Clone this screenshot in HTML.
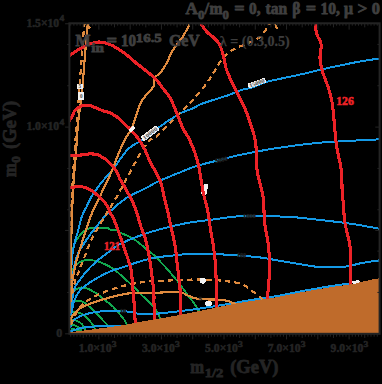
<!DOCTYPE html>
<html><head><meta charset="utf-8"><title>plot</title>
<style>
html,body{margin:0;padding:0;background:#000;}
body{width:382px;height:384px;overflow:hidden;position:relative;font-family:"Liberation Serif",serif;}
svg{position:absolute;left:0;top:0;display:block}
text{font-family:"Liberation Serif",serif;font-weight:bold}
</style></head><body>
<svg width="382" height="384" viewBox="0 0 382 384">
<rect x="0" y="0" width="382" height="384" fill="#000"/>
<defs><clipPath id="cp"><rect x="69.5" y="23.3" width="310" height="310.5"/></clipPath></defs>
<g clip-path="url(#cp)" fill="none" stroke-linecap="round" stroke-linejoin="round" shape-rendering="crispEdges">
<path d="M70.8,258.0 C71.0,256.8 71.7,253.3 72.3,251.0 C72.9,248.7 73.6,246.1 74.5,244.0 C75.4,241.9 76.3,240.3 77.8,238.2 C79.3,236.1 81.3,233.2 83.3,231.6 C85.3,230.0 87.2,229.1 89.6,228.4 C91.9,227.7 95.0,227.7 97.4,227.6 C99.8,227.5 102.2,227.6 104.0,227.7 C105.8,227.8 106.9,227.7 108.0,228.0 C109.1,228.3 109.0,229.4 110.4,229.8 C111.9,230.2 115.3,230.0 116.7,230.4 C118.1,230.8 117.7,231.4 118.9,232.0 C120.1,232.6 122.4,233.6 123.8,234.2 C125.2,234.8 125.5,234.9 127.3,235.8 C129.1,236.7 132.5,238.2 134.7,239.6 C136.8,241.0 138.1,242.3 140.2,244.0 C142.3,245.7 144.9,247.9 147.5,250.0 C150.1,252.1 153.2,254.5 155.5,256.6 C157.8,258.7 159.2,260.4 161.0,262.4 C162.8,264.3 164.7,266.2 166.5,268.3 C168.3,270.4 170.2,272.6 172.0,274.7 C173.8,276.8 175.5,278.7 177.5,281.2 C179.5,283.7 182.5,287.7 184.0,289.8 C185.5,291.9 185.0,291.8 186.7,294.0 C188.4,296.2 192.0,300.4 194.0,303.1 C196.0,305.9 197.6,308.9 198.6,310.5 C199.6,312.1 199.8,312.6 200.0,313.0" stroke="#12a84f" stroke-width="1.9"/>
<path d="M71.0,275.0 C71.3,274.0 71.1,271.1 72.6,268.9 C74.1,266.7 77.4,263.3 80.1,261.8 C82.8,260.3 85.6,259.9 88.9,260.0 C92.2,260.1 96.6,261.0 100.2,262.2 C103.8,263.4 108.0,265.8 110.3,267.0 C112.6,268.2 112.1,267.5 114.3,269.3 C116.5,271.1 120.5,274.9 123.5,277.6 C126.5,280.4 129.5,282.8 132.6,285.8 C135.7,288.8 139.1,292.6 142.1,295.5 C145.1,298.4 147.8,300.2 150.5,303.2 C153.2,306.2 156.6,310.6 158.3,313.6 C160.0,316.6 160.1,319.8 160.5,321.0" stroke="#12a84f" stroke-width="1.9"/>
<path d="M71.0,296.0 C71.2,295.4 70.8,293.6 72.3,292.2 C73.8,290.8 77.5,288.2 80.1,287.6 C82.7,287.0 85.1,287.7 88.0,288.8 C90.9,289.9 94.5,292.3 97.4,294.2 C100.3,296.1 102.7,298.3 105.3,300.4 C107.9,302.5 110.8,304.5 113.1,306.7 C115.4,308.9 117.4,311.4 119.4,313.8 C121.4,316.2 123.6,318.8 124.9,320.8 C126.2,322.8 126.7,325.1 127.0,326.0" stroke="#12a84f" stroke-width="1.9"/>
<path d="M71.0,306.5 C71.2,305.9 71.0,303.8 72.3,302.8 C73.6,301.9 76.5,300.8 78.6,300.8 C80.7,300.8 82.6,301.6 84.8,302.9 C87.0,304.2 89.5,306.9 91.5,308.6 C93.5,310.4 94.7,311.5 96.5,313.4 C98.3,315.3 100.8,318.0 102.6,320.0 C104.4,322.0 106.4,323.9 107.6,325.4 C108.8,326.9 109.2,328.4 109.5,329.0" stroke="#12a84f" stroke-width="1.9"/>
<path d="M71.0,315.0 C71.2,314.5 71.2,312.7 72.3,312.2 C73.4,311.7 75.5,311.7 77.4,312.2 C79.3,312.7 81.8,313.9 83.7,315.2 C85.6,316.5 87.4,318.5 89.0,320.2 C90.6,321.9 92.0,323.8 93.1,325.4 C94.2,327.0 95.2,329.2 95.6,330.0" stroke="#12a84f" stroke-width="1.9"/>
<path d="M71.0,321.0 C71.2,320.8 71.3,320.0 72.3,320.0 C73.3,320.0 75.4,320.1 77.0,320.8 C78.6,321.5 80.3,322.5 81.7,324.0 C83.1,325.5 84.9,329.0 85.6,330.0" stroke="#12a84f" stroke-width="1.9"/>
<path d="M70.5,326.0 C70.7,325.9 70.7,325.6 71.5,325.5 C72.3,325.4 74.0,325.0 75.4,325.5 C76.8,326.0 79.2,327.7 80.1,328.7 C81.0,329.7 80.8,331.0 81.0,331.5" stroke="#12a84f" stroke-width="1.9"/>
<path d="M71.5,329.2 C72.1,329.2 73.5,329.2 75.0,329.4 C76.5,329.6 79.6,330.2 80.5,330.4" stroke="#12a84f" stroke-width="1.9"/>
<path d="M379.6,58.5 C376.5,59.0 367.5,60.1 361.0,61.3 C354.5,62.4 347.3,64.0 340.5,65.4 C333.7,66.8 326.2,68.4 320.0,69.8 C313.8,71.2 308.7,72.6 303.0,73.9 C297.3,75.2 291.9,76.3 286.0,77.6 C280.1,78.9 273.1,80.0 267.3,81.7 C261.6,83.4 255.8,86.2 251.5,87.6 C247.2,89.0 245.2,88.8 241.4,90.0 C237.6,91.2 233.1,93.5 228.9,95.0 C224.7,96.5 220.9,97.5 216.3,99.0 C211.7,100.5 205.0,102.5 201.2,104.0 C197.4,105.5 197.1,106.5 193.7,108.0 C190.3,109.5 185.2,110.9 181.0,113.0 C176.8,115.1 172.8,117.9 168.6,120.6 C164.4,123.3 160.3,126.3 156.0,129.4 C151.7,132.5 146.8,136.7 143.0,139.4 C139.2,142.1 135.5,143.7 132.9,145.4 C130.3,147.1 129.2,147.9 127.5,149.6 C125.8,151.3 125.2,152.2 122.8,155.5 C120.3,158.8 116.1,165.3 112.8,169.6 C109.5,173.8 105.6,177.4 102.7,181.0 C99.8,184.6 97.0,188.5 95.2,191.0 C93.4,193.5 93.4,193.3 91.9,196.0 C90.4,198.7 88.1,203.6 86.4,207.0 C84.7,210.4 83.3,212.2 81.9,216.4 C80.5,220.6 79.0,227.6 77.8,232.0 C76.6,236.4 75.5,239.1 74.6,243.0 C73.7,246.9 72.9,250.4 72.3,255.7 C71.7,261.0 71.3,267.6 71.0,275.0 C70.7,282.4 70.4,295.8 70.3,300.0" stroke="#1499e6" stroke-width="2.0"/>
<path d="M379.6,139.3 C374.2,139.6 357.2,140.4 347.3,141.0 C337.4,141.6 328.5,142.0 320.0,142.7 C311.5,143.4 304.1,144.4 296.2,145.4 C288.3,146.4 279.8,147.6 272.4,148.8 C265.0,150.0 258.0,151.3 252.0,152.5 C246.0,153.7 240.7,154.7 236.4,155.7 C232.1,156.7 231.4,157.0 226.4,158.3 C221.4,159.6 211.8,161.9 206.3,163.3 C200.9,164.8 197.9,165.6 193.7,167.0 C189.5,168.4 185.2,170.3 181.0,172.0 C176.8,173.7 172.8,175.2 168.6,177.0 C164.4,178.8 159.9,180.6 156.0,182.5 C152.1,184.4 149.2,186.5 145.4,188.4 C141.6,190.3 135.8,192.8 132.9,194.2 C130.0,195.6 129.7,195.8 128.1,196.8 C126.5,197.8 125.1,198.8 123.3,200.2 C121.5,201.6 118.9,203.4 117.0,205.0 C115.1,206.6 113.8,208.0 111.8,209.8 C109.8,211.6 107.7,213.2 105.3,215.8 C102.9,218.4 100.0,222.1 97.4,225.3 C94.8,228.6 91.9,232.1 89.6,235.3 C87.2,238.5 85.4,241.3 83.3,244.7 C81.2,248.1 78.6,251.7 77.0,255.9 C75.4,260.1 74.5,264.9 73.6,270.0 C72.7,275.1 72.0,279.8 71.5,286.5 C71.0,293.2 70.7,306.1 70.5,310.0" stroke="#1499e6" stroke-width="2.0"/>
<path d="M379.3,228.7 C374.5,227.9 360.6,225.1 350.7,223.7 C340.8,222.2 329.6,221.1 320.0,220.0 C310.4,218.9 303.5,217.9 293.3,217.2 C283.1,216.5 268.6,216.1 259.0,216.0 C249.4,215.9 244.1,215.8 236.0,216.5 C227.9,217.2 218.0,218.9 210.4,219.9 C202.8,220.9 197.0,221.3 190.3,222.4 C183.6,223.5 176.1,225.3 170.2,226.7 C164.3,228.1 159.5,229.4 155.0,230.7 C150.5,232.0 147.1,233.2 143.0,234.6 C138.9,236.0 134.6,237.5 130.4,239.3 C126.2,241.1 122.0,242.8 117.8,245.3 C113.6,247.9 109.0,251.7 105.2,254.6 C101.4,257.5 98.3,259.8 95.2,262.6 C92.1,265.4 89.1,268.3 86.4,271.4 C83.7,274.5 80.9,278.3 78.8,281.4 C76.7,284.5 75.1,285.4 73.8,290.2 C72.5,295.0 71.5,306.7 71.0,310.0" stroke="#1499e6" stroke-width="2.0"/>
<path d="M379.3,260.4 C376.4,260.8 368.1,261.9 362.0,263.0 C355.9,264.1 350.0,266.3 343.0,267.0 C336.0,267.7 326.4,267.3 320.0,267.0 C313.6,266.7 311.2,266.0 304.8,265.0 C298.4,264.0 289.5,262.5 281.9,261.2 C274.3,259.9 266.6,258.3 259.0,257.3 C251.3,256.3 242.4,255.9 236.0,255.4 C229.6,254.9 225.5,254.6 220.4,254.3 C215.3,254.0 211.2,253.8 205.3,253.8 C199.4,253.8 191.0,254.0 185.2,254.3 C179.3,254.6 175.2,255.2 170.2,255.8 C165.2,256.4 160.0,256.7 155.0,257.6 C150.0,258.5 145.3,259.8 140.4,261.3 C135.5,262.8 130.3,264.7 125.3,266.4 C120.3,268.1 114.9,269.5 110.3,271.4 C105.7,273.3 101.5,275.6 97.7,277.7 C93.9,279.8 90.5,281.9 87.6,284.0 C84.7,286.1 82.3,287.5 80.1,290.2 C77.9,292.9 76.0,295.9 74.5,300.0 C73.0,304.1 71.6,312.5 71.0,315.0" stroke="#1499e6" stroke-width="2.0"/>
<path d="M70.5,327.0 C70.7,326.3 70.7,324.0 71.5,322.6 C72.3,321.2 73.2,320.2 75.4,318.8 C77.6,317.4 81.1,315.7 84.8,314.5 C88.5,313.3 92.7,312.3 97.4,311.7 C102.1,311.1 108.4,310.9 113.1,310.9 C117.8,310.8 122.5,311.1 125.7,311.4 C128.9,311.6 130.2,312.0 132.6,312.4 C135.0,312.8 136.9,313.7 140.0,314.0 C143.1,314.3 146.8,314.4 151.0,314.2 C155.2,314.0 159.1,313.4 165.1,312.8 C171.1,312.2 179.1,311.3 187.0,310.3 C194.9,309.3 204.4,307.8 212.3,306.6 C220.2,305.4 227.9,304.1 234.2,303.0 C240.5,301.9 244.6,301.1 250.0,300.2 C255.4,299.3 261.6,298.6 266.6,297.8 C271.6,297.0 274.7,296.5 280.0,295.5 C285.3,294.5 292.2,293.0 298.3,291.8 C304.4,290.6 310.5,289.6 316.6,288.5 C322.7,287.4 329.8,286.3 335.0,285.5 C340.2,284.7 345.8,284.1 348.0,283.8" stroke="#1499e6" stroke-width="2.0"/>
<path d="M70.5,332.0 C70.7,331.8 69.6,331.7 71.5,331.0 C73.4,330.3 77.4,328.7 81.7,327.9 C86.0,327.1 92.2,326.6 97.4,326.3 C102.6,326.0 109.0,326.0 113.1,326.0 C117.2,326.0 120.5,326.4 122.0,326.5" stroke="#1499e6" stroke-width="2.0"/>
<path d="M87.6,22.0 C87.4,25.0 86.7,33.7 86.2,40.0 C85.7,46.3 85.1,53.0 84.6,60.0 C84.0,67.0 83.5,75.3 82.9,82.0 C82.3,88.7 81.9,94.0 81.2,100.0 C80.5,106.0 79.3,111.8 78.6,118.0 C77.9,124.2 77.5,130.3 77.0,137.0 C76.5,143.7 76.1,150.8 75.6,158.0 C75.0,165.2 74.2,173.0 73.7,180.0 C73.2,187.0 72.9,193.3 72.6,200.0 C72.3,206.7 72.1,211.7 71.8,220.0 C71.5,228.3 71.2,239.2 71.0,250.0 C70.8,260.8 70.4,279.2 70.3,285.0" stroke="#df8a3e" stroke-width="2.2"/>
<path d="M190.5,22.0 C189.3,24.4 186.1,31.4 183.2,36.1 C180.3,40.8 175.8,45.4 173.0,50.0 C170.2,54.6 168.5,59.8 166.3,63.7 C164.1,67.6 161.5,71.5 159.8,73.6 C158.1,75.7 156.9,75.1 156.0,76.2 C155.1,77.3 154.7,78.5 154.4,80.0 C154.1,81.5 154.4,83.5 154.0,85.0 C153.6,86.5 152.6,87.9 151.8,89.0 C151.0,90.1 150.4,90.2 149.3,91.5 C148.2,92.8 146.4,94.7 145.0,96.5 C143.6,98.3 142.2,100.2 141.0,102.4 C139.8,104.7 138.9,107.6 138.0,110.0 C137.1,112.4 136.5,114.7 135.7,117.0 C134.9,119.3 134.0,121.9 133.3,124.0 C132.6,126.1 132.7,127.3 131.5,129.6 C130.3,131.8 127.8,134.3 126.0,137.5 C124.2,140.7 122.1,145.3 120.5,149.0 C118.9,152.7 118.0,155.2 116.3,159.5 C114.6,163.8 112.6,169.3 110.3,174.5 C108.0,179.7 104.5,186.8 102.7,190.5 C100.9,194.2 101.3,193.5 99.6,197.0 C97.9,200.5 94.4,207.1 92.5,211.7 C90.6,216.2 89.5,219.9 88.0,224.3 C86.5,228.8 84.7,234.0 83.3,238.4 C81.9,242.8 80.7,246.6 79.4,251.0 C78.1,255.4 76.6,260.2 75.5,265.0 C74.4,269.8 73.4,275.0 72.6,280.0 C71.8,285.0 71.2,289.7 70.8,295.0 C70.4,300.3 70.1,309.2 70.0,312.0" stroke="#df8a3e" stroke-width="2.2"/>
<path d="M70.5,322.0 C70.8,321.0 71.2,317.9 72.3,316.0 C73.4,314.1 75.2,312.2 77.0,310.6 C78.8,309.1 80.7,308.0 83.3,306.7 C85.9,305.4 89.0,304.1 92.7,302.8 C96.4,301.5 101.1,300.0 105.3,298.8 C109.5,297.6 113.2,296.5 117.8,295.5 C122.3,294.5 127.1,293.4 132.6,293.0 C138.1,292.6 145.1,293.1 151.0,293.0 C156.9,292.9 163.3,292.3 168.3,292.2 C173.3,292.1 178.1,292.2 181.2,292.6 C184.3,293.1 184.6,294.0 186.7,294.9 C188.8,295.8 191.6,297.3 194.0,298.0 C196.4,298.7 198.3,298.9 201.3,299.2 C204.3,299.4 208.9,299.4 212.0,299.5 C215.1,299.6 217.3,299.6 220.0,299.8 C222.7,300.1 225.3,300.2 228.0,301.0 C230.7,301.8 234.7,303.8 236.0,304.3" stroke="#df8a3e" stroke-width="2.2"/>
<path d="M85.6,25.2 L88.4,24.2 L89.6,26.2 L91.2,27.6 L89.2,29.2 L87.0,29.8 Z" fill="#df8a3e" stroke="none"/>
<path d="M84.8,22.0 C84.6,24.2 83.9,28.7 83.4,35.0 C82.9,41.3 82.2,52.2 81.6,60.0 C81.0,67.8 80.3,75.3 79.8,82.0 C79.3,88.7 79.0,93.7 78.6,100.0 C78.2,106.3 77.7,113.3 77.2,120.0 C76.7,126.7 76.0,133.3 75.5,140.0 C75.0,146.7 74.5,153.3 74.0,160.0 C73.5,166.7 73.2,173.3 72.8,180.0 C72.4,186.7 72.1,193.3 71.8,200.0 C71.5,206.7 71.2,211.7 71.0,220.0 C70.8,228.3 70.6,245.0 70.5,250.0" stroke="#df8a3e" stroke-width="2.2" stroke-dasharray="5.5,4" stroke-linecap="butt"/>
<path d="M277.0,29.0 C276.7,28.2 275.8,25.3 275.0,24.0 C274.2,22.7 272.9,21.0 272.0,21.0 C271.1,21.0 270.7,22.5 269.5,24.2 C268.3,25.9 267.0,28.7 264.8,31.3 C262.6,33.9 259.8,37.4 256.5,39.6 C253.2,41.8 249.1,42.3 244.8,44.3 C240.5,46.2 234.1,49.1 230.6,51.3 C227.1,53.4 225.8,54.8 223.6,57.2 C221.4,59.6 219.5,62.8 217.7,65.5 C215.9,68.2 214.9,70.7 213.0,73.7 C211.1,76.8 209.5,79.6 206.3,83.8 C203.1,88.0 197.5,94.8 193.7,99.0 C189.9,103.2 187.8,104.8 183.6,109.0 C179.4,113.2 173.0,119.6 168.6,124.0 C164.2,128.4 160.5,132.8 157.3,135.6 C154.1,138.4 152.0,137.8 149.2,140.7 C146.4,143.6 143.1,148.8 140.4,153.2 C137.7,157.6 135.4,162.4 132.9,167.0 C130.4,171.6 127.5,176.8 125.3,181.0 C123.0,185.2 121.2,188.7 119.4,192.0 C117.6,195.3 116.0,198.1 114.4,200.8 C112.8,203.6 111.3,205.7 109.6,208.5 C107.9,211.3 107.0,212.6 104.0,217.6 C101.0,222.6 95.0,232.2 91.8,238.7 C88.6,245.1 87.0,250.9 84.8,256.3 C82.6,261.8 80.4,267.2 78.8,271.4 C77.2,275.6 76.3,276.6 75.0,281.4 C73.7,286.2 71.7,296.9 71.0,300.0" stroke="#df8a3e" stroke-width="2.2" stroke-dasharray="5.5,4" stroke-linecap="butt"/>
<path d="M71.0,325.0 C71.7,323.3 73.5,317.9 75.0,315.0 C76.5,312.1 78.2,309.8 80.1,307.5 C82.0,305.2 84.6,302.6 86.4,301.2 C88.2,299.8 89.5,299.7 91.1,298.8 C92.7,297.9 93.6,297.1 96.0,295.9 C98.4,294.7 101.9,292.9 105.3,291.6 C108.7,290.3 113.3,288.9 116.3,287.9 C119.3,286.9 119.2,286.8 123.5,285.8 C127.8,284.9 137.1,283.0 141.8,282.2 C146.6,281.4 147.1,281.5 152.0,281.2 C156.9,280.9 162.9,280.7 171.4,280.4 C179.9,280.1 193.4,279.3 202.8,279.5 C212.2,279.7 221.2,280.5 228.0,281.4 C234.8,282.3 238.9,282.8 243.7,285.0 C248.5,287.2 253.8,292.4 257.0,294.8 C260.2,297.2 261.8,298.7 262.8,299.5" stroke="#df8a3e" stroke-width="2.2" stroke-dasharray="5.5,4" stroke-linecap="butt"/>
<g transform="rotate(0 205.8 186.5)"><rect x="203.7" y="184.1" width="4.2" height="4.8" rx="1.4" fill="#f2f2f2" stroke="none"/>
</g>
<g transform="rotate(0 204.0 191.7)"><rect x="201.0" y="188.7" width="6.0" height="6.0" rx="1.4" fill="#f2f2f2" stroke="none"/>
</g>
<path d="M69.0,55.8 C69.3,55.6 68.6,56.0 70.6,54.7 C72.5,53.5 77.5,50.1 80.7,48.3 C83.9,46.5 86.8,44.9 89.8,43.9 C92.8,42.9 96.0,42.0 99.0,42.0 C102.0,42.0 105.0,42.7 108.1,43.7 C111.1,44.8 114.2,46.5 117.3,48.3 C120.4,50.1 123.5,52.3 126.5,54.7 C129.6,57.1 133.2,60.6 135.6,62.6 C138.0,64.6 138.4,64.7 141.0,66.8 C143.6,68.9 148.6,72.7 151.4,75.1 C154.2,77.5 155.6,79.0 157.7,81.4 C159.8,83.9 161.9,87.0 164.0,89.8 C166.1,92.6 168.4,94.8 170.3,98.2 C172.2,101.6 173.9,106.3 175.5,110.0 C177.1,113.7 178.4,117.3 179.7,120.5 C181.0,123.7 181.7,126.1 183.2,129.0 C184.7,131.9 186.7,134.0 188.7,138.0 C190.7,142.0 193.3,148.4 195.0,153.0 C196.7,157.6 197.7,161.2 198.7,165.8 C199.7,170.5 200.3,175.9 201.2,180.9 C202.1,185.9 202.9,191.0 204.0,196.0 C205.1,201.0 206.7,205.6 207.8,211.0 C208.9,216.4 209.5,222.8 210.4,228.7 C211.3,234.6 212.6,240.5 213.4,246.3 C214.2,252.2 215.0,258.4 215.4,263.8 C215.8,269.2 215.9,274.6 216.1,279.0 C216.3,283.4 216.5,284.8 216.7,290.0 C216.8,295.2 216.9,306.7 217.0,310.0" stroke="#ec2227" stroke-width="3.1"/>
<path d="M69.0,121.5 C69.4,120.8 70.4,119.2 71.5,117.3 C72.6,115.3 73.7,111.7 75.4,109.8 C77.1,107.9 79.9,106.8 81.7,106.0 C83.5,105.2 84.9,105.2 86.5,105.2 C88.1,105.2 89.3,105.2 91.1,105.8 C92.9,106.4 95.3,107.7 97.4,108.6 C99.5,109.5 101.6,110.3 103.7,111.0 C105.8,111.7 107.9,112.0 110.0,112.9 C112.1,113.8 114.2,115.0 116.3,116.5 C118.4,118.0 120.9,120.5 122.5,122.0 C124.1,123.5 124.8,124.5 126.0,125.6 C127.2,126.7 127.5,126.5 129.5,128.6 C131.5,130.7 135.2,134.3 137.9,138.0 C140.6,141.7 143.3,146.5 145.4,150.7 C147.5,154.9 148.7,159.4 150.5,163.0 C152.3,166.6 154.2,168.6 156.0,172.0 C157.8,175.4 159.7,179.6 161.0,183.4 C162.3,187.2 162.6,190.4 163.7,195.0 C164.8,199.6 166.3,205.4 167.6,211.0 C168.9,216.6 170.1,222.8 171.4,228.7 C172.7,234.6 174.2,240.5 175.2,246.3 C176.2,252.2 176.6,258.4 177.2,263.8 C177.8,269.2 178.5,274.4 179.0,279.0 C179.5,283.6 180.0,287.3 180.2,291.5 C180.4,295.7 180.1,299.6 180.2,304.0 C180.3,308.4 180.7,315.7 180.8,318.0" stroke="#ec2227" stroke-width="3.1"/>
<path d="M199.8,21.0 C200.4,22.1 202.2,25.6 203.5,27.5 C204.8,29.4 205.8,30.8 207.5,32.5 C209.2,34.2 212.0,35.9 214.0,37.8 C216.0,39.7 217.9,41.6 219.3,44.0 C220.7,46.4 221.5,49.3 222.3,52.0 C223.1,54.7 223.7,57.3 224.3,60.0 C224.9,62.7 225.2,65.2 226.0,68.0 C226.8,70.8 227.7,72.8 229.3,76.5 C230.9,80.2 233.5,86.0 235.6,90.2 C237.7,94.4 239.9,97.9 241.8,101.8 C243.7,105.7 245.4,109.5 246.9,113.5 C248.4,117.5 249.6,120.8 251.0,125.6 C252.4,130.3 254.6,134.7 255.6,142.0 C256.6,149.3 256.0,161.4 257.0,169.3 C258.0,177.2 260.4,184.6 261.5,189.7 C262.6,194.8 263.0,194.4 263.5,200.0 C264.0,205.6 263.9,215.3 264.7,223.0 C265.5,230.7 267.7,238.3 268.5,245.9 C269.3,253.5 269.8,259.8 269.6,268.8 C269.4,277.8 267.7,294.8 267.3,300.0" stroke="#ec2227" stroke-width="3.1"/>
<path d="M315.0,22.0 C315.3,24.0 315.7,30.3 316.7,34.0 C317.7,37.7 320.6,40.2 321.1,44.2 C321.7,48.2 319.8,53.4 320.0,57.9 C320.2,62.4 321.1,66.4 322.5,71.5 C323.9,76.6 327.0,83.4 328.6,88.5 C330.2,93.6 331.1,97.5 332.0,102.0 C332.9,106.5 333.2,111.3 333.7,115.7 C334.1,120.1 334.1,122.9 334.7,128.4 C335.2,133.9 335.9,142.0 337.0,148.8 C338.1,155.6 340.3,161.9 341.2,169.3 C342.1,176.7 341.9,187.9 342.2,193.0 C342.5,198.1 342.5,195.0 343.0,200.0 C343.5,205.0 343.8,215.3 345.0,223.0 C346.2,230.7 349.1,238.3 350.0,245.9 C350.9,253.5 350.6,262.3 350.7,268.8 C350.8,275.3 350.7,282.3 350.7,285.0" stroke="#ec2227" stroke-width="3.1"/>
<path d="M69.0,155.3 C71.1,155.2 78.3,155.2 81.7,155.0 C85.1,154.8 87.0,154.0 89.6,153.9 C92.2,153.8 95.3,154.1 97.4,154.7 C99.5,155.3 100.5,156.4 102.1,157.3 C103.7,158.2 104.6,158.4 106.8,160.3 C109.0,162.2 112.8,165.8 115.0,169.0 C117.2,172.2 118.4,176.2 120.2,179.5 C122.0,182.8 124.0,185.8 125.8,189.0 C127.6,192.2 129.4,195.5 130.9,198.5 C132.4,201.5 133.7,204.2 134.8,207.0 C135.9,209.8 136.5,212.0 137.6,215.5 C138.7,219.0 140.0,224.1 141.3,228.0 C142.6,231.9 144.1,234.0 145.4,238.7 C146.7,243.4 148.1,250.4 149.2,256.3 C150.2,262.2 150.9,268.0 151.7,273.9 C152.5,279.8 153.4,286.5 153.8,291.5 C154.2,296.5 153.8,299.1 154.0,304.0 C154.2,308.9 154.8,318.2 155.0,321.0" stroke="#ec2227" stroke-width="3.1"/>
<path d="M69.5,187.9 C71.3,187.7 76.6,186.1 80.1,186.4 C83.5,186.7 87.3,188.2 90.2,189.7 C93.1,191.2 95.2,193.4 97.5,195.3 C99.8,197.2 102.2,199.3 103.7,201.0 C105.2,202.7 105.7,203.3 106.8,205.3 C107.9,207.3 109.1,210.3 110.4,212.9 C111.7,215.5 113.2,218.1 114.4,220.7 C115.6,223.3 116.6,226.2 117.5,228.6 C118.4,230.9 118.8,232.4 119.6,234.8 C120.4,237.2 121.5,240.1 122.5,243.0 C123.5,245.9 124.8,249.8 125.7,252.5 C126.6,255.2 127.1,255.9 128.0,259.0 C128.9,262.1 130.6,266.7 131.3,271.0 C132.1,275.3 132.1,280.3 132.5,285.0 C132.9,289.7 133.4,293.7 133.8,299.0 C134.2,304.3 134.7,312.7 134.9,317.0 C135.2,321.3 135.2,323.7 135.3,325.0" stroke="#ec2227" stroke-width="3.1"/>
<path d="M69.0,332.5 C75.2,331.7 96.3,328.9 105.9,327.6 C115.5,326.3 120.5,325.6 126.8,324.5 C133.1,323.4 136.2,322.6 143.6,321.3 C151.0,320.0 161.5,318.3 171.4,316.5 C181.3,314.7 192.3,312.4 202.8,310.3 C213.3,308.2 226.3,305.4 234.2,303.9 C242.1,302.4 244.6,302.0 250.0,301.2 C255.4,300.4 261.6,299.7 266.6,298.9 C271.6,298.1 274.7,297.6 280.0,296.6 C285.3,295.6 292.2,294.1 298.3,292.9 C304.4,291.7 310.5,290.7 316.6,289.6 C322.7,288.5 329.5,287.3 335.0,286.5 C340.5,285.7 345.7,285.3 349.8,284.6 C353.9,283.9 355.9,283.2 359.6,282.4 C363.3,281.6 368.5,280.3 371.9,279.6 C375.3,278.9 378.5,278.5 379.8,278.3 L379.8,335 L69,335 Z" fill="#bf6b2b" stroke="none"/>
<g transform="rotate(0 79.9 86.1)"><rect x="77.1" y="83.5" width="5.6" height="5.2" rx="0" fill="#f2f2f2" stroke="none"/>
<text x="79.9" y="88.0" font-size="5.6" text-anchor="middle" fill="#4a4a4a" stroke="none" font-weight="normal" textLength="2.6" lengthAdjust="spacingAndGlyphs">5</text>
</g>
<g transform="rotate(0 81.2 96.3)"><rect x="78.4" y="92.4" width="5.7" height="7.8" rx="0" fill="#f2f2f2" stroke="none"/>
<text x="81.2" y="98.2" font-size="5.6" text-anchor="middle" fill="#4a4a4a" stroke="none" font-weight="normal" textLength="2.6" lengthAdjust="spacingAndGlyphs">0</text>
</g>
<g transform="rotate(-40 131.8 129.1)"><rect x="128.6" y="127.3" width="6.5" height="3.6" rx="1.4" fill="#f2f2f2" stroke="none"/>
</g>
<g transform="rotate(-37 150.1 133.3)"><rect x="140.3" y="130.4" width="19.5" height="5.8" rx="0" fill="#f2f2f2" stroke="none"/>
<text x="150.1" y="135.2" font-size="5.6" text-anchor="middle" fill="#4a4a4a" stroke="none" font-weight="normal" textLength="17.0" lengthAdjust="spacingAndGlyphs">10000</text>
</g>
<g transform="rotate(-19.6 256.9 83.1)"><rect x="247.6" y="80.6" width="18.5" height="5.0" rx="0" fill="#f2f2f2" stroke="none"/>
<text x="256.9" y="85.0" font-size="5.6" text-anchor="middle" fill="#4a4a4a" stroke="none" font-weight="normal" textLength="16.0" lengthAdjust="spacingAndGlyphs">15000</text>
</g>
<g transform="rotate(0 202.9 280.6)"><rect x="200.3" y="277.7" width="5.2" height="5.8" rx="1.4" fill="#f2f2f2" stroke="none"/>
</g>
<g transform="rotate(0 208.6 303.5)"><rect x="205.4" y="301.2" width="6.3" height="4.6" rx="1.4" fill="#f2f2f2" stroke="none"/>
</g>
<g transform="rotate(-8 355.9 282.0)"><rect x="352.2" y="280.5" width="7.4" height="3.0" rx="1.4" fill="#f2f2f2" stroke="none"/>
</g>
<text x="200.4" y="301.1" font-size="6.2" text-anchor="middle" fill="#1c1c1c" stroke="#1c1c1c" stroke-width="0.5" transform="rotate(0 200.4 299.0)">5</text>
<text x="221.3" y="161.8" font-size="6.2" text-anchor="middle" fill="#1c1c1c" stroke="#1c1c1c" stroke-width="0.5" transform="rotate(-12 221.3 159.7)">5000</text>
<text x="249.3" y="217.7" font-size="6.2" text-anchor="middle" fill="#1c1c1c" stroke="#1c1c1c" stroke-width="0.5" transform="rotate(0 249.3 215.6)">1000</text>
<text x="241.5" y="257.1" font-size="6.2" text-anchor="middle" fill="#1c1c1c" stroke="#1c1c1c" stroke-width="0.5" transform="rotate(5 241.5 255.0)">100</text>
<text x="123.0" y="313.1" font-size="6.2" text-anchor="middle" fill="#1c1c1c" stroke="#1c1c1c" stroke-width="0.5" transform="rotate(0 123.0 311.0)">10</text>
</g>
<g stroke="#242424" fill="none">
<rect x="69.4" y="23.3" width="310.2" height="310.5" stroke-width="2"/>
<path d="M70.73,23.3 v2.4 M70.73,333.8 v2.9 M73.86,23.3 v2.4 M73.86,333.8 v2.9 M76.98,23.3 v2.4 M76.98,333.8 v2.9 M80.11,23.3 v2.4 M80.11,333.8 v2.9 M83.24,23.3 v4.1 M83.24,333.8 v4.1 M86.37,23.3 v2.4 M86.37,333.8 v2.9 M89.50,23.3 v2.4 M89.50,333.8 v2.9 M92.62,23.3 v2.4 M92.62,333.8 v2.9 M95.75,23.3 v2.4 M95.75,333.8 v2.9 M98.88,23.3 v6.3 M98.88,333.8 v5.6 M102.01,23.3 v2.4 M102.01,333.8 v2.9 M105.14,23.3 v2.4 M105.14,333.8 v2.9 M108.26,23.3 v2.4 M108.26,333.8 v2.9 M111.39,23.3 v2.4 M111.39,333.8 v2.9 M114.52,23.3 v4.1 M114.52,333.8 v4.1 M117.65,23.3 v2.4 M117.65,333.8 v2.9 M120.78,23.3 v2.4 M120.78,333.8 v2.9 M123.90,23.3 v2.4 M123.90,333.8 v2.9 M127.03,23.3 v2.4 M127.03,333.8 v2.9 M130.16,23.3 v6.3 M130.16,333.8 v5.6 M133.29,23.3 v2.4 M133.29,333.8 v2.9 M136.42,23.3 v2.4 M136.42,333.8 v2.9 M139.54,23.3 v2.4 M139.54,333.8 v2.9 M142.67,23.3 v2.4 M142.67,333.8 v2.9 M145.80,23.3 v4.1 M145.80,333.8 v4.1 M148.93,23.3 v2.4 M148.93,333.8 v2.9 M152.06,23.3 v2.4 M152.06,333.8 v2.9 M155.18,23.3 v2.4 M155.18,333.8 v2.9 M158.31,23.3 v2.4 M158.31,333.8 v2.9 M161.44,23.3 v6.3 M161.44,333.8 v5.6 M164.57,23.3 v2.4 M164.57,333.8 v2.9 M167.70,23.3 v2.4 M167.70,333.8 v2.9 M170.82,23.3 v2.4 M170.82,333.8 v2.9 M173.95,23.3 v2.4 M173.95,333.8 v2.9 M177.08,23.3 v4.1 M177.08,333.8 v4.1 M180.21,23.3 v2.4 M180.21,333.8 v2.9 M183.34,23.3 v2.4 M183.34,333.8 v2.9 M186.46,23.3 v2.4 M186.46,333.8 v2.9 M189.59,23.3 v2.4 M189.59,333.8 v2.9 M192.72,23.3 v6.3 M192.72,333.8 v5.6 M195.85,23.3 v2.4 M195.85,333.8 v2.9 M198.98,23.3 v2.4 M198.98,333.8 v2.9 M202.10,23.3 v2.4 M202.10,333.8 v2.9 M205.23,23.3 v2.4 M205.23,333.8 v2.9 M208.36,23.3 v4.1 M208.36,333.8 v4.1 M211.49,23.3 v2.4 M211.49,333.8 v2.9 M214.62,23.3 v2.4 M214.62,333.8 v2.9 M217.74,23.3 v2.4 M217.74,333.8 v2.9 M220.87,23.3 v2.4 M220.87,333.8 v2.9 M224.00,23.3 v6.3 M224.00,333.8 v5.6 M227.13,23.3 v2.4 M227.13,333.8 v2.9 M230.26,23.3 v2.4 M230.26,333.8 v2.9 M233.38,23.3 v2.4 M233.38,333.8 v2.9 M236.51,23.3 v2.4 M236.51,333.8 v2.9 M239.64,23.3 v4.1 M239.64,333.8 v4.1 M242.77,23.3 v2.4 M242.77,333.8 v2.9 M245.90,23.3 v2.4 M245.90,333.8 v2.9 M249.02,23.3 v2.4 M249.02,333.8 v2.9 M252.15,23.3 v2.4 M252.15,333.8 v2.9 M255.28,23.3 v6.3 M255.28,333.8 v5.6 M258.41,23.3 v2.4 M258.41,333.8 v2.9 M261.54,23.3 v2.4 M261.54,333.8 v2.9 M264.66,23.3 v2.4 M264.66,333.8 v2.9 M267.79,23.3 v2.4 M267.79,333.8 v2.9 M270.92,23.3 v4.1 M270.92,333.8 v4.1 M274.05,23.3 v2.4 M274.05,333.8 v2.9 M277.18,23.3 v2.4 M277.18,333.8 v2.9 M280.30,23.3 v2.4 M280.30,333.8 v2.9 M283.43,23.3 v2.4 M283.43,333.8 v2.9 M286.56,23.3 v6.3 M286.56,333.8 v5.6 M289.69,23.3 v2.4 M289.69,333.8 v2.9 M292.82,23.3 v2.4 M292.82,333.8 v2.9 M295.94,23.3 v2.4 M295.94,333.8 v2.9 M299.07,23.3 v2.4 M299.07,333.8 v2.9 M302.20,23.3 v4.1 M302.20,333.8 v4.1 M305.33,23.3 v2.4 M305.33,333.8 v2.9 M308.46,23.3 v2.4 M308.46,333.8 v2.9 M311.58,23.3 v2.4 M311.58,333.8 v2.9 M314.71,23.3 v2.4 M314.71,333.8 v2.9 M317.84,23.3 v6.3 M317.84,333.8 v5.6 M320.97,23.3 v2.4 M320.97,333.8 v2.9 M324.10,23.3 v2.4 M324.10,333.8 v2.9 M327.22,23.3 v2.4 M327.22,333.8 v2.9 M330.35,23.3 v2.4 M330.35,333.8 v2.9 M333.48,23.3 v4.1 M333.48,333.8 v4.1 M336.61,23.3 v2.4 M336.61,333.8 v2.9 M339.74,23.3 v2.4 M339.74,333.8 v2.9 M342.86,23.3 v2.4 M342.86,333.8 v2.9 M345.99,23.3 v2.4 M345.99,333.8 v2.9 M349.12,23.3 v6.3 M349.12,333.8 v5.6 M352.25,23.3 v2.4 M352.25,333.8 v2.9 M355.38,23.3 v2.4 M355.38,333.8 v2.9 M358.50,23.3 v2.4 M358.50,333.8 v2.9 M361.63,23.3 v2.4 M361.63,333.8 v2.9 M364.76,23.3 v4.1 M364.76,333.8 v4.1 M367.89,23.3 v2.4 M367.89,333.8 v2.9 M371.02,23.3 v2.4 M371.02,333.8 v2.9 M374.14,23.3 v2.4 M374.14,333.8 v2.9 M377.27,23.3 v2.4 M377.27,333.8 v2.9 M69.4,333.80 h-4.3 M379.6,333.80 h-4.3 M69.4,292.46 h-2.2 M379.6,292.46 h-2.2 M69.4,251.12 h-2.2 M379.6,251.12 h-2.2 M69.4,230.45 h-4.3 M379.6,230.45 h-4.3 M69.4,209.78 h-2.2 M379.6,209.78 h-2.2 M69.4,168.44 h-2.2 M379.6,168.44 h-2.2 M69.4,127.10 h-4.3 M379.6,127.10 h-4.3 M69.4,85.76 h-2.2 M379.6,85.76 h-2.2 M69.4,44.42 h-2.2 M379.6,44.42 h-2.2 M69.4,23.75 h-4.3 M379.6,23.75 h-4.3" stroke-width="1"/>
</g>
<g fill="#242424">
<g fill="#3f3f3f" stroke="#3f3f3f" stroke-width="0.8" paint-order="stroke">
<text x="185.6" y="13.9" font-size="16.5" text-anchor="start" textLength="12.4" lengthAdjust="spacingAndGlyphs" >A</text>
<text x="198.0" y="18.7" font-size="13.2" text-anchor="start" textLength="6.4" lengthAdjust="spacingAndGlyphs" >0</text>
<text x="204.6" y="13.9" font-size="16.5" text-anchor="start" >/</text>
<text x="209.4" y="13.9" font-size="16.5" text-anchor="start" textLength="13.0" lengthAdjust="spacingAndGlyphs" >m</text>
<text x="222.4" y="18.7" font-size="13.2" text-anchor="start" textLength="6.4" lengthAdjust="spacingAndGlyphs" >0</text>
<text x="234.2" y="13.9" font-size="16.5" text-anchor="start" textLength="10.4" lengthAdjust="spacingAndGlyphs" >=</text>
<text x="249.1" y="13.9" font-size="16.5" text-anchor="start" textLength="11.5" lengthAdjust="spacingAndGlyphs" >0,</text>
<text x="265.6" y="13.9" font-size="16.5" text-anchor="start" textLength="21.6" lengthAdjust="spacingAndGlyphs" >tan</text>
<text x="292.3" y="13.9" font-size="16.5" text-anchor="start" textLength="8.2" lengthAdjust="spacingAndGlyphs" >β</text>
<text x="305.8" y="13.9" font-size="16.5" text-anchor="start" textLength="10.4" lengthAdjust="spacingAndGlyphs" >=</text>
<text x="320.5" y="13.9" font-size="16.5" text-anchor="start" textLength="19.5" lengthAdjust="spacingAndGlyphs" >10,</text>
<text x="344.1" y="13.9" font-size="16.5" text-anchor="start" textLength="9.0" lengthAdjust="spacingAndGlyphs" >μ</text>
<text x="357.6" y="13.9" font-size="16.5" text-anchor="start" textLength="9.8" lengthAdjust="spacingAndGlyphs" >&gt;</text>
<text x="371.8" y="13.9" font-size="16.5" text-anchor="start" textLength="8.2" lengthAdjust="spacingAndGlyphs" >0</text>
<text x="75.6" y="46.2" font-size="17" text-anchor="start" textLength="15.0" lengthAdjust="spacingAndGlyphs" >M</text>
<text x="91.2" y="51.6" font-size="13.2" text-anchor="start" textLength="12.6" lengthAdjust="spacingAndGlyphs" >in</text>
<text x="106.4" y="46.2" font-size="17" text-anchor="start" textLength="10.6" lengthAdjust="spacingAndGlyphs" >=</text>
<text x="121.0" y="46.2" font-size="17" text-anchor="start" textLength="15.0" lengthAdjust="spacingAndGlyphs" >10</text>
<text x="135.8" y="41.6" font-size="13.5" text-anchor="start" textLength="26.0" lengthAdjust="spacingAndGlyphs" >16.5</text>
<text x="169.0" y="46.2" font-size="17" text-anchor="start" textLength="30.8" lengthAdjust="spacingAndGlyphs" >GeV</text>
</g>
<text x="219.8" y="46.2" font-size="14.5" fill="#3d3d3d" textLength="70" lengthAdjust="spacingAndGlyphs" stroke="#3d3d3d" stroke-width="0.25">λ = (0.3,0.5)</text>
<g stroke="#242424" stroke-width="0.55" paint-order="stroke">
<text x="78.7" y="352.3" font-size="12" text-anchor="start" textLength="32.8" lengthAdjust="spacingAndGlyphs" >1.0×10</text>
<text x="111.7" y="347.1" font-size="8.8" text-anchor="start" textLength="4.8" lengthAdjust="spacingAndGlyphs" >3</text>
<text x="142.0" y="352.3" font-size="12" text-anchor="start" textLength="32.8" lengthAdjust="spacingAndGlyphs" >3.0×10</text>
<text x="175.0" y="347.1" font-size="8.8" text-anchor="start" textLength="4.8" lengthAdjust="spacingAndGlyphs" >3</text>
<text x="205.1" y="352.3" font-size="12" text-anchor="start" textLength="32.8" lengthAdjust="spacingAndGlyphs" >5.0×10</text>
<text x="238.1" y="347.1" font-size="8.8" text-anchor="start" textLength="4.8" lengthAdjust="spacingAndGlyphs" >3</text>
<text x="267.8" y="352.3" font-size="12" text-anchor="start" textLength="32.8" lengthAdjust="spacingAndGlyphs" >7.0×10</text>
<text x="300.8" y="347.1" font-size="8.8" text-anchor="start" textLength="4.8" lengthAdjust="spacingAndGlyphs" >3</text>
<text x="330.6" y="352.3" font-size="12" text-anchor="start" textLength="32.8" lengthAdjust="spacingAndGlyphs" >9.0×10</text>
<text x="363.6" y="347.1" font-size="8.8" text-anchor="start" textLength="4.8" lengthAdjust="spacingAndGlyphs" >3</text>
<text x="26.4" y="26.5" font-size="12" text-anchor="start" textLength="32.8" lengthAdjust="spacingAndGlyphs" >1.5×10</text>
<text x="59.4" y="21.3" font-size="8.8" text-anchor="start" textLength="4.8" lengthAdjust="spacingAndGlyphs" >4</text>
<text x="26.4" y="129.9" font-size="12" text-anchor="start" textLength="32.8" lengthAdjust="spacingAndGlyphs" >1.0×10</text>
<text x="59.4" y="124.7" font-size="8.8" text-anchor="start" textLength="4.8" lengthAdjust="spacingAndGlyphs" >4</text>
<text x="59.2" y="337.3" font-size="12" text-anchor="middle" >0</text>
</g>
<g stroke="#242424" stroke-width="0.8" paint-order="stroke">
<text x="190.2" y="373.0" font-size="18" text-anchor="start" textLength="13.8" lengthAdjust="spacingAndGlyphs" >m</text>
<text x="204.7" y="376.8" font-size="13" text-anchor="start" textLength="18.8" lengthAdjust="spacingAndGlyphs" >1/2</text>
<text x="230.2" y="373.0" font-size="18" text-anchor="start" textLength="48.2" lengthAdjust="spacingAndGlyphs" >(GeV)</text>
<g transform="translate(16.0,177) rotate(-90)">
<text x="0.0" y="0.0" font-size="18" text-anchor="start" textLength="13.8" lengthAdjust="spacingAndGlyphs" >m</text>
<text x="14.2" y="4.2" font-size="13" text-anchor="start" textLength="6.6" lengthAdjust="spacingAndGlyphs" >0</text>
<text x="28.0" y="0.0" font-size="18" text-anchor="start" textLength="48.2" lengthAdjust="spacingAndGlyphs" >(GeV)</text>
</g>
</g>
<text x="104" y="250.2" font-size="11.5" fill="#ec2227" stroke="#ec2227" stroke-width="0.6" textLength="16.0" lengthAdjust="spacingAndGlyphs">121</text>
<text x="336.2" y="105" font-size="11.5" fill="#ec2227" stroke="#ec2227" stroke-width="0.6" textLength="17.6" lengthAdjust="spacingAndGlyphs">126</text>
</g>
</svg></body></html>
